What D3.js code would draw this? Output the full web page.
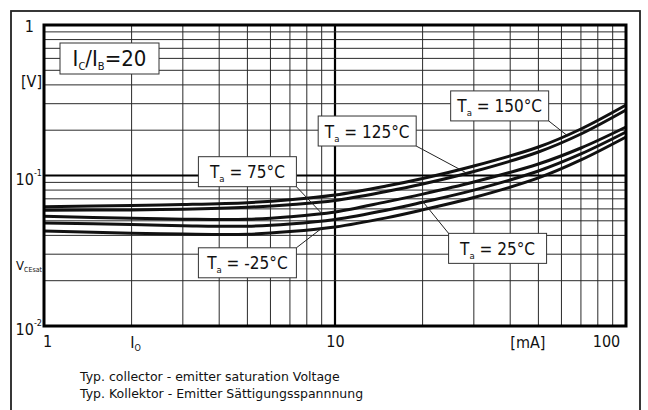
<!DOCTYPE html>
<html>
<head>
<meta charset="utf-8">
<script src="https://cdn.jsdelivr.net/npm/d3@7"></script>
<style>
body{margin:0;background:#fff;}
text{font-family:"DejaVu Sans Condensed","DejaVu Sans",sans-serif;fill:#111;}
</style>
</head>
<body>
<svg id="chart"></svg>
<script>
// collector current [mA]
var currents = [1, 2, 3, 5, 7, 10, 15, 20, 30, 50, 70, 100];
// VCEsat [V] for each ambient temperature
var vce150 = [0.0620, 0.0632, 0.0641, 0.0660, 0.0690, 0.0742, 0.0851, 0.0955, 0.1156, 0.1546, 0.2037, 0.2940];
var vce125 = [0.0587, 0.0591, 0.0597, 0.0615, 0.0640, 0.0682, 0.0783, 0.0878, 0.1063, 0.1433, 0.1887, 0.2724];
var vce75  = [0.0536, 0.0520, 0.0513, 0.0512, 0.0532, 0.0572, 0.0668, 0.0752, 0.0905, 0.1192, 0.1523, 0.2100];
var vce25  = [0.0484, 0.0472, 0.0464, 0.0460, 0.0476, 0.0510, 0.0587, 0.0664, 0.0800, 0.1071, 0.1390, 0.1945];
var vceM25 = [0.0428, 0.0414, 0.0408, 0.0407, 0.0424, 0.0455, 0.0523, 0.0591, 0.0714, 0.0963, 0.1268, 0.1802];

var temps = ["150", "125", "75", "25", "-25"];
var series = [vce150, vce125, vce75, vce25, vceM25];

// label boxes (centre in data units) and where their pointer hits the curve
var labelCurrent = [36.8, 12.9, 5.0, 36.2, 5.0];
var labelVolt = [0.290, 0.1975, 0.106, 0.0328, 0.0263];
var labelCorner = ["br", "br", "br", "tl", "tr"];
var pointerCurrent = [62.5, 28.4, 9.0, 20.1, 9.0];

var xTicks = [1, 10, 100];
var xTickLabels = ["1", "10", "100"];
var yTicks = [1, 0.1, 0.01];

var W = 648, H = 410;
var svg = d3.select("#chart").attr("width", W).attr("height", H);

svg.append("rect").attr("width", W).attr("height", H).attr("fill", "#fff");

// outer frame
svg.append("rect")
	.attr("x", 11).attr("y", 11)
	.attr("width", 629).attr("height", 420)
	.attr("fill", "none").attr("stroke", "#222").attr("stroke-width", 1.8);

var x = d3.scaleLog().domain([1, 100]).range([44, 626]);
var y = d3.scaleLog().domain([0.01, 1]).range([326, 25]);

var grid = svg.append("g").attr("class", "grid");

// vertical grid
grid.selectAll("line.v")
	.data(x.ticks().filter(function(d){ return d > 1 && d < 100; }))
	.enter().append("line")
	.attr("class", "v")
	.attr("x1", function(d){ return x(d); })
	.attr("x2", function(d){ return x(d); })
	.attr("y1", y(1)).attr("y2", y(0.01))
	.attr("stroke", function(d){ return d === 10 ? "#000" : "#2a2a2a"; })
	.attr("stroke-width", function(d){ return d === 10 ? 2.2 : 1; });

// horizontal grid
grid.selectAll("line.h")
	.data(y.ticks().filter(function(d){ return d > 0.0101 && d < 0.99; }))
	.enter().append("line")
	.attr("class", "h")
	.attr("y1", function(d){ return y(d); })
	.attr("y2", function(d){ return y(d); })
	.attr("x1", x(1)).attr("x2", x(100))
	.attr("stroke", function(d){ return Math.abs(d - 0.1) < 1e-6 ? "#000" : "#2a2a2a"; })
	.attr("stroke-width", function(d){ return Math.abs(d - 0.1) < 1e-6 ? 2.2 : 1; });

// curves
var line = d3.line()
	.x(function(d){ return x(d[0]); })
	.y(function(d){ return y(d[1]); })
	.curve(d3.curveCatmullRom.alpha(0.5));

svg.append("g").selectAll("path")
	.data(series)
	.enter().append("path")
	.attr("d", function(s){ return line(currents.map(function(c, i){ return [c, s[i]]; })); })
	.attr("fill", "none")
	.attr("stroke", "#111")
	.attr("stroke-width", 3);

// plot frame
svg.append("rect")
	.attr("x", x(1)).attr("y", y(1))
	.attr("width", x(100) - x(1)).attr("height", y(0.01) - y(1))
	.attr("fill", "none").attr("stroke", "#000").attr("stroke-width", 3);

// value on a curve (log-log interpolation)
function valueAt(s, c){
	var lc = Math.log10(c);
	for(var i = 0; i < currents.length - 1; i++){
		var a = Math.log10(currents[i]), b = Math.log10(currents[i+1]);
		if(lc >= a && lc <= b){
			var t = (lc - a) / (b - a);
			return Math.pow(10, Math.log10(s[i]) * (1 - t) + Math.log10(s[i+1]) * t);
		}
	}
	return s[s.length - 1];
}

// temperature labels
var bw = 98, bh = 30;
var labels = svg.append("g").selectAll("g")
	.data(temps)
	.enter().append("g");

labels.append("line")
	.attr("x1", function(d, i){
		var cx = x(labelCurrent[i]);
		return labelCorner[i].charAt(1) === "r" ? cx + bw / 2 : cx - bw / 2;
	})
	.attr("y1", function(d, i){
		var cy = y(labelVolt[i]);
		return labelCorner[i].charAt(0) === "b" ? cy + bh / 2 : cy - bh / 2;
	})
	.attr("x2", function(d, i){ return x(pointerCurrent[i]); })
	.attr("y2", function(d, i){ return y(valueAt(series[i], pointerCurrent[i])); })
	.attr("stroke", "#222").attr("stroke-width", 1);

labels.append("rect")
	.attr("x", function(d, i){ return x(labelCurrent[i]) - bw / 2; })
	.attr("y", function(d, i){ return y(labelVolt[i]) - bh / 2; })
	.attr("width", bw).attr("height", bh)
	.attr("fill", "#fff").attr("stroke", "#333").attr("stroke-width", 1);

var lt = labels.append("text")
	.attr("x", function(d, i){ return x(labelCurrent[i]); })
	.attr("y", function(d, i){ return y(labelVolt[i]) + 6.5; })
	.attr("text-anchor", "middle")
	.style("font-size", "17px");
lt.append("tspan").text("T");
lt.append("tspan").attr("dy", 4).style("font-size", "9.5px").text("a");
lt.append("tspan").attr("dy", -4).text(function(d){ return " = " + d + "°C"; });

// Ic/Ib box
svg.append("rect")
	.attr("x", 60).attr("y", 43).attr("width", 99).attr("height", 31)
	.attr("fill", "#fff").attr("stroke", "#333").attr("stroke-width", 1);
var ib = svg.append("text").attr("x", 109.5).attr("y", 66).attr("text-anchor", "middle").style("font-size", "22px");
ib.append("tspan").text("I");
ib.append("tspan").attr("dy", 4).style("font-size", "11px").text("C");
ib.append("tspan").attr("dy", -4).text("/I");
ib.append("tspan").attr("dy", 4).style("font-size", "11px").text("B");
ib.append("tspan").attr("dy", -4).text("=20");

// x axis
var xAxis = svg.append("g")
	.attr("transform", "translate(0," + y(0.01) + ")")
	.call(d3.axisBottom(x).tickValues(xTicks).tickSize(0).tickPadding(10)
		.tickFormat(function(d, i){ return xTickLabels[i]; }));
xAxis.select(".domain").remove();
xAxis.selectAll("text").style("font-size", "16px").attr("fill", "#111")
	.style("font-family", '"DejaVu Sans Condensed","DejaVu Sans",sans-serif');
xAxis.selectAll(".tick").filter(function(d){ return d === 1; }).select("text").attr("dx", 3);
xAxis.selectAll(".tick").filter(function(d){ return d === 100; }).select("text").attr("dx", -20);

var io = svg.append("text").attr("x", x(2) + 4).attr("y", y(0.01) + 22).attr("text-anchor", "middle").style("font-size", "16px");
io.append("tspan").text("I");
io.append("tspan").attr("dy", 3).style("font-size", "9px").text("O");
svg.append("text").attr("x", x(46)).attr("y", y(0.01) + 22).attr("text-anchor", "middle").style("font-size", "16px").text("[mA]");

// y axis labels
svg.append("text").attr("x", 34).attr("y", y(1) + 7).attr("text-anchor", "end").style("font-size", "16px").text("1");
svg.append("text").attr("x", 42).attr("y", y(0.4) + 2).attr("text-anchor", "end").style("font-size", "16px").text("[V]");
svg.selectAll("text.ylog")
	.data(yTicks.slice(1))
	.enter().append("text")
	.attr("class", "ylog")
	.attr("x", 42)
	.attr("y", function(d){ return y(d) + 9; })
	.attr("text-anchor", "end")
	.style("font-size", "16px")
	.each(function(d){
		var t = d3.select(this);
		t.append("tspan").text("10");
		t.append("tspan").attr("dy", -9).style("font-size", "9px").text(String(Math.round(Math.log10(d))));
	});
var vl = svg.append("text").attr("x", 16).attr("y", y(0.0254) + 5).style("font-size", "13px");
vl.append("tspan").text("V");
vl.append("tspan").attr("dy", 2).style("font-size", "7px").text("CEsat");

// caption
svg.append("text").attr("x", 80).attr("y", 381).style("font-size", "12.5px").style("font-family", '"DejaVu Sans",sans-serif').text("Typ. collector - emitter saturation Voltage");
svg.append("text").attr("x", 80).attr("y", 398).style("font-size", "12.5px").style("font-family", '"DejaVu Sans",sans-serif').text("Typ. Kollektor - Emitter Sättigungsspannnung");
</script>
</body>
</html>
